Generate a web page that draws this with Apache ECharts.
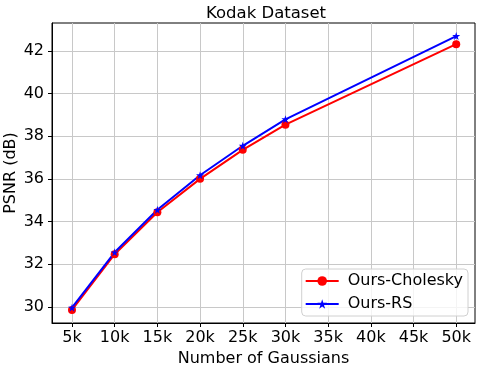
<!DOCTYPE html>
<html>
<head>
<meta charset="utf-8">
<script src="https://cdn.jsdelivr.net/npm/echarts@6/dist/echarts.min.js"></script>
<style>
  html, body { margin: 0; padding: 0; background: #fff; }
  #container { width: 480px; height: 371px; }
</style>
</head>
<body>
<div id="container"></div>
<script>
    // 数据
    var gaussians = [5, 10, 15, 20, 25, 30, 50];
    var cholesky = [29.86, 32.47, 34.44, 36.00, 37.36, 38.54, 42.31];
    var rs = [29.97, 32.56, 34.55, 36.17, 37.55, 38.79, 42.69];
    var xTicks = [5, 10, 15, 20, 25, 30, 35, 40, 45, 50];
    var yTicks = [30, 32, 34, 36, 38, 40, 42];

    function pairs(xs, ys) {
        return xs.map(function (x, i) { return [x, ys[i]]; });
    }

    var font = 'DejaVu Sans';
    var myChart = echarts.init(document.getElementById('container'));

    var option = {
        animation: false,
        title: {
            text: 'Kodak Dataset',
            left: 261, top: 0, textAlign: 'center',
            textStyle: { fontFamily: font, fontSize: 16.5, fontWeight: 'normal', color: '#000' }
        },
        grid: {
            left: 52, right: 5, top: 23, bottom: 48,
            outerBoundsMode: 'none',
            show: true, borderColor: '#000', borderWidth: 1
        },
        legend: {
            right: 12, bottom: 55,
            orient: 'vertical',
            itemWidth: 33, itemHeight: 12, itemGap: 7,
            padding: [4, 5, 4, 3],
            borderColor: '#d0d0d0', borderWidth: 1, borderRadius: 4,
            backgroundColor: 'rgba(255,255,255,0.8)',
            textStyle: { fontFamily: font, fontSize: 16, color: '#000', padding: [0, 0, 0, 4] },
            data: ['Ours-Cholesky', 'Ours-RS']
        },
        xAxis: {
            type: 'value',
            min: 2.66, max: 52.2,
            name: 'Number of Gaussians',
            nameLocation: 'middle', nameGap: 28, nameMoveOverlap: false,
            nameTextStyle: { fontFamily: font, fontSize: 16, color: '#000' },
            axisLine: { lineStyle: { color: '#000', width: 1 } },
            axisTick: { customValues: xTicks, length: 4, lineStyle: { color: '#000' } },
            axisLabel: {
                customValues: xTicks, margin: 7,
                fontFamily: font, fontSize: 16, color: '#000',
                formatter: function (v) { return v + 'k'; }
            },
            splitLine: { show: true, lineStyle: { color: '#c8c8c8', width: 1 } }
        },
        yAxis: {
            type: 'value',
            min: 29.25, max: 43.3,
            name: 'PSNR (dB)',
            nameLocation: 'middle', nameGap: 33, nameMoveOverlap: false,
            nameTextStyle: { fontFamily: font, fontSize: 16, color: '#000' },
            axisLine: { show: true, lineStyle: { color: '#000', width: 1 } },
            axisTick: { show: true, customValues: yTicks, length: 4, lineStyle: { color: '#000' } },
            axisLabel: {
                customValues: yTicks, margin: 8,
                fontFamily: font, fontSize: 16, color: '#000'
            },
            splitLine: { show: true, lineStyle: { color: '#c8c8c8', width: 1 } }
        },
        series: [{
            name: 'Ours-Cholesky',
            type: 'line',
            data: pairs(gaussians, cholesky),
            symbol: 'circle', symbolSize: 8,
            lineStyle: { color: '#ff0000', width: 2 },
            itemStyle: { color: '#ff0000' }
        }, {
            name: 'Ours-RS',
            type: 'line',
            data: pairs(gaussians, rs),
            symbol: 'path://M0,-1L0.2245,-0.309L0.951,-0.309L0.363,0.118L0.588,0.809L0,0.382L-0.588,0.809L-0.363,0.118L-0.951,-0.309L-0.2245,-0.309Z',
            symbolSize: 8,
            lineStyle: { color: '#0000ff', width: 2 },
            itemStyle: { color: '#0000ff' }
        }]
    };

    myChart.setOption(option);
</script>
</body>
</html>
